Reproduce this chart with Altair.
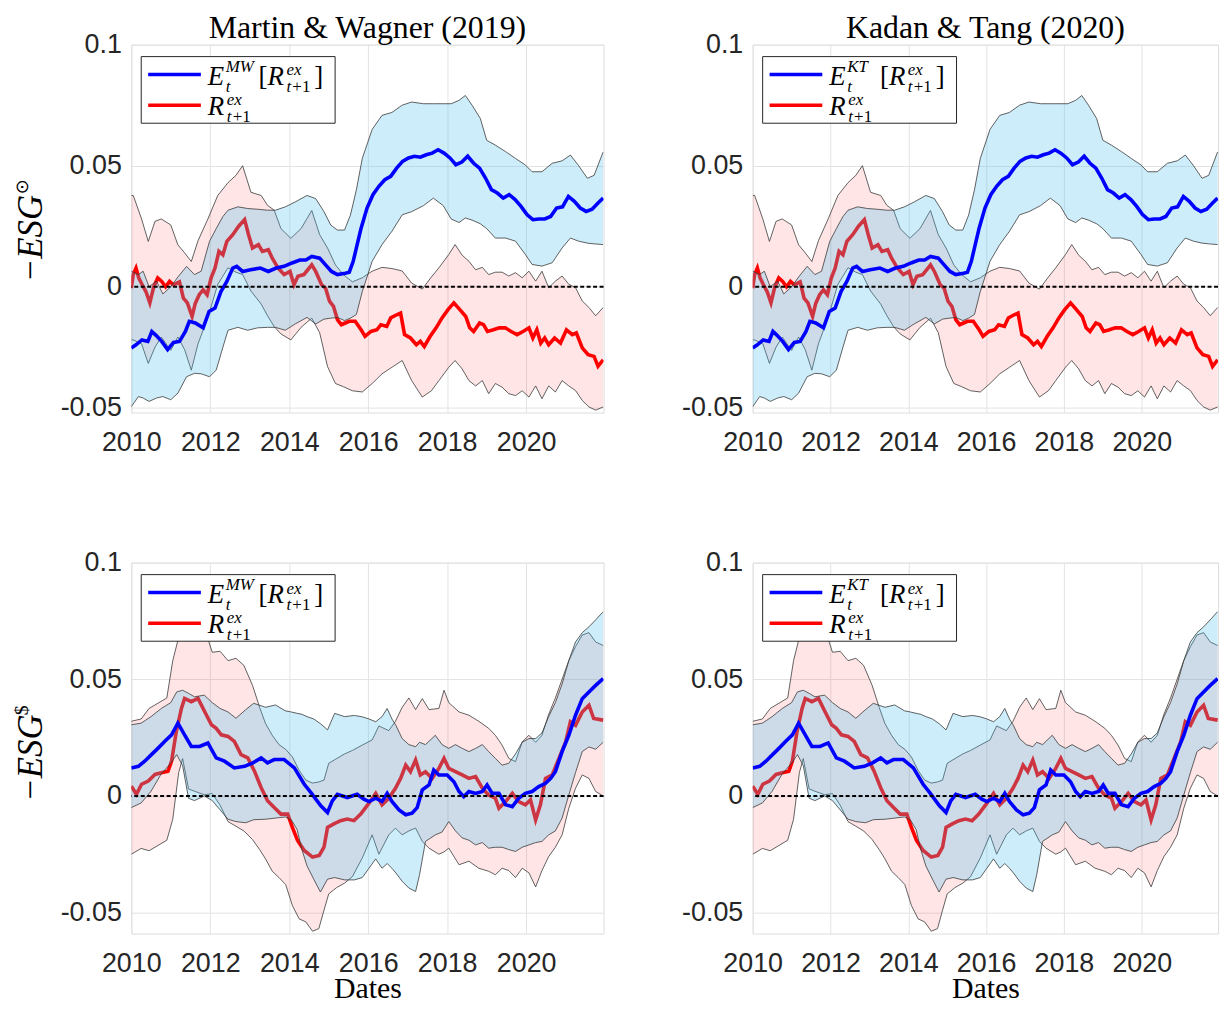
import altair as alt
import pandas as pd

# ---------------- data ----------------
# Top row: -ESG (circle-dot) portfolio
TOP_EXP_T = [2010.00, 2010.12, 2010.27, 2010.42, 2010.52, 2010.62, 2010.77, 2010.92, 2011.07, 2011.22,
             2011.37, 2011.47, 2011.62, 2011.82, 2011.97, 2012.12, 2012.27, 2012.42, 2012.57, 2012.67,
             2012.82, 2013.02, 2013.27, 2013.47, 2013.67, 2013.87, 2014.07, 2014.27, 2014.42, 2014.57,
             2014.77, 2014.92, 2015.07, 2015.22, 2015.42, 2015.52, 2015.62, 2015.72, 2015.82, 2015.97,
             2016.12, 2016.27, 2016.42, 2016.57, 2016.72, 2016.87, 2017.02, 2017.17, 2017.32, 2017.47,
             2017.62, 2017.77, 2017.92, 2018.07, 2018.22, 2018.37, 2018.52, 2018.67, 2018.82, 2018.97,
             2019.12, 2019.27, 2019.42, 2019.57, 2019.72, 2019.87, 2020.02, 2020.17, 2020.32, 2020.47,
             2020.62, 2020.77, 2020.92, 2021.07, 2021.22, 2021.37, 2021.52, 2021.67, 2021.82, 2021.95]
TOP_EXP_V = [-0.0253, -0.0240, -0.0220, -0.0226, -0.0185, -0.0200, -0.0226, -0.0260, -0.0230, -0.0226,
             -0.0185, -0.0143, -0.0150, -0.0170, -0.0102, -0.0088, -0.0020, 0.0022, 0.0077, 0.0084,
             0.0063, 0.0070, 0.0077, 0.0063, 0.0077, 0.0084, 0.0098, 0.0110, 0.0110, 0.0125,
             0.0118, 0.0090, 0.0063, 0.0050, 0.0056, 0.0060, 0.0105, 0.0174, 0.0242, 0.0325,
             0.0380, 0.0415, 0.0442, 0.0456, 0.0490, 0.0518, 0.0532, 0.0539, 0.0535, 0.0545,
             0.0552, 0.0566, 0.0552, 0.0532, 0.0504, 0.0515, 0.0539, 0.0510, 0.0490, 0.0449,
             0.0401, 0.0387, 0.0366, 0.0380, 0.0360, 0.0332, 0.0298, 0.0277, 0.0280, 0.0280,
             0.0290, 0.0325, 0.0330, 0.0373, 0.0353, 0.0325, 0.0311, 0.0320, 0.0346, 0.0366]

TOP_RET_T = [2010.00, 2010.05, 2010.12, 2010.19, 2010.27, 2010.37, 2010.47, 2010.57, 2010.67, 2010.77,
             2010.87, 2010.97, 2011.07, 2011.22, 2011.32, 2011.42, 2011.54, 2011.62, 2011.72, 2011.82,
             2011.92, 2012.02, 2012.12, 2012.22, 2012.32, 2012.42, 2012.57, 2012.72, 2012.87, 2012.97,
             2013.07, 2013.22, 2013.32, 2013.47, 2013.57, 2013.72, 2013.87, 2014.02, 2014.12, 2014.22,
             2014.37, 2014.47, 2014.57, 2014.67, 2014.82, 2014.92, 2015.02, 2015.12, 2015.22, 2015.32,
             2015.42, 2015.52, 2015.67, 2015.82, 2015.92, 2016.07, 2016.22, 2016.32, 2016.47, 2016.57,
             2016.72, 2016.82, 2016.92, 2017.07, 2017.22, 2017.32, 2017.42, 2017.57, 2017.72, 2017.87,
             2018.02, 2018.17, 2018.32, 2018.47, 2018.57, 2018.67, 2018.82, 2018.92, 2019.02, 2019.17,
             2019.32, 2019.47, 2019.62, 2019.77, 2019.92, 2020.07, 2020.17, 2020.27, 2020.37, 2020.47,
             2020.57, 2020.72, 2020.87, 2021.02, 2021.17, 2021.27, 2021.42, 2021.57, 2021.72, 2021.82,
             2021.95]
TOP_RET_V = [-0.0006, 0.0050, 0.0077, 0.0036, 0.0010, -0.0020, -0.0067, 0.0000, 0.0036, 0.0022,
             0.0000, 0.0022, 0.0008, 0.0020, -0.0047, -0.0067, -0.0123, -0.0069, -0.0033, -0.0013,
             -0.0033, 0.0036, 0.0077, 0.0146, 0.0132, 0.0187, 0.0215, 0.0250, 0.0277, 0.0215,
             0.0160, 0.0174, 0.0146, 0.0153, 0.0118, 0.0077, 0.0050, 0.0063, 0.0008, 0.0043,
             0.0050, 0.0070, 0.0090, 0.0063, 0.0008, -0.0006, -0.0060, -0.0081, -0.0136, -0.0157,
             -0.0150, -0.0143, -0.0143, -0.0178, -0.0205, -0.0185, -0.0178, -0.0157, -0.0164, -0.0129,
             -0.0116, -0.0109, -0.0198, -0.0212, -0.0240, -0.0226, -0.0247, -0.0205, -0.0170, -0.0129,
             -0.0095, -0.0067, -0.0095, -0.0123, -0.0170, -0.0185, -0.0150, -0.0157, -0.0185, -0.0178,
             -0.0170, -0.0170, -0.0185, -0.0198, -0.0185, -0.0170, -0.0212, -0.0178, -0.0233, -0.0212,
             -0.0240, -0.0212, -0.0233, -0.0178, -0.0198, -0.0191, -0.0253, -0.0281, -0.0288, -0.0329,
             -0.0302]

TOP_EXPBAND_T = [2010.00, 2010.18, 2010.30, 2010.45, 2010.64, 2010.80, 2011.00, 2011.18, 2011.40, 2011.60,
                 2011.77, 2011.98, 2012.15, 2012.32, 2012.45, 2012.70, 2012.95, 2013.20, 2013.45, 2013.65,
                 2013.90, 2014.15, 2014.45, 2014.67, 2014.88, 2015.05, 2015.22, 2015.40, 2015.55, 2015.70,
                 2015.85, 2016.10, 2016.35, 2016.60, 2016.86, 2017.10, 2017.40, 2017.65, 2017.90, 2018.10,
                 2018.30, 2018.46, 2018.63, 2018.84, 2019.00, 2019.22, 2019.48, 2019.73, 2019.98, 2020.15,
                 2020.40, 2020.66, 2020.91, 2021.12, 2021.33, 2021.55, 2021.72, 2021.95]
TOP_EXPBAND_HI = [0.0064, 0.0050, 0.0064, 0.0000, 0.0023, -0.0030, 0.0000, 0.0040, 0.0084, 0.0050,
                  0.0064, 0.0187, 0.0240, 0.0290, 0.0316, 0.0330, 0.0323, 0.0320, 0.0316, 0.0316,
                  0.0330, 0.0350, 0.0377, 0.0364, 0.0310, 0.0255, 0.0234, 0.0234, 0.0296, 0.0400,
                  0.0530, 0.0650, 0.0708, 0.0720, 0.0750, 0.0763, 0.0756, 0.0756, 0.0756, 0.0756,
                  0.0770, 0.0790, 0.0750, 0.0695, 0.0605, 0.0585, 0.0558, 0.0530, 0.0503, 0.0475,
                  0.0475, 0.0510, 0.0520, 0.0544, 0.0500, 0.0448, 0.0460, 0.0557]
TOP_EXPBAND_LO = [-0.0496, -0.0454, -0.0460, -0.0474, -0.0460, -0.0454, -0.0467, -0.0440, -0.0372, -0.0358,
                  -0.0360, -0.0372, -0.0345, -0.0250, -0.0180, -0.0168, -0.0180, -0.0170, -0.0168, -0.0168,
                  -0.0180, -0.0154, -0.0127, -0.0154, -0.0134, -0.0130, -0.0127, -0.0140, -0.0130, -0.0115,
                  -0.0020, 0.0105, 0.0174, 0.0229, 0.0297, 0.0310, 0.0335, 0.0366, 0.0335, 0.0280,
                  0.0265, 0.0284, 0.0275, 0.0260, 0.0240, 0.0201, 0.0201, 0.0188, 0.0133, 0.0092,
                  0.0085, 0.0099, 0.0160, 0.0201, 0.0188, 0.0180, 0.0177, 0.0174]

TOP_RETBAND_T = [2010.00, 2010.05, 2010.26, 2010.43, 2010.60, 2010.76, 2011.00, 2011.18, 2011.35, 2011.52,
                 2011.69, 2011.94, 2012.19, 2012.45, 2012.65, 2012.82, 2013.03, 2013.29, 2013.45, 2013.62,
                 2013.79, 2014.04, 2014.30, 2014.57, 2014.77, 2014.97, 2015.17, 2015.37, 2015.60, 2015.85,
                 2016.10, 2016.35, 2016.60, 2016.86, 2017.10, 2017.37, 2017.60, 2017.79, 2018.04, 2018.20,
                 2018.38, 2018.55, 2018.72, 2018.89, 2019.05, 2019.22, 2019.39, 2019.56, 2019.73, 2019.90,
                 2020.07, 2020.24, 2020.40, 2020.57, 2020.74, 2020.91, 2021.08, 2021.25, 2021.42, 2021.59,
                 2021.76, 2021.95]
TOP_RETBAND_HI = [0.0377, 0.0377, 0.0280, 0.0187, 0.0270, 0.0280, 0.0255, 0.0173, 0.0140, 0.0104,
                  0.0190, 0.0280, 0.0377, 0.0430, 0.0460, 0.0500, 0.0390, 0.0377, 0.0336, 0.0316,
                  0.0240, 0.0200, 0.0240, 0.0315, 0.0215, 0.0160, 0.0090, 0.0050, 0.0020, 0.0037,
                  0.0064, 0.0080, 0.0075, 0.0065, 0.0015, -0.0010, 0.0040, 0.0078, 0.0133, 0.0174,
                  0.0130, 0.0105, 0.0070, 0.0080, 0.0050, 0.0060, 0.0060, 0.0044, 0.0058, 0.0037,
                  0.0064, 0.0023, 0.0064, -0.0004, 0.0023, 0.0044, 0.0010, -0.0004, -0.0059, -0.0086,
                  -0.0120, -0.0086]
TOP_RETBAND_LO = [-0.0220, -0.0220, -0.0236, -0.0317, -0.0250, -0.0208, -0.0263, -0.0208, -0.0260, -0.0345,
                  -0.0236, -0.0127, 0.0010, 0.0078, 0.0060, 0.0050, -0.0018, -0.0072, -0.0120, -0.0165,
                  -0.0195, -0.0220, -0.0168, -0.0130, -0.0190, -0.0330, -0.0400, -0.0413, -0.0430, -0.0435,
                  -0.0400, -0.0360, -0.0333, -0.0305, -0.0388, -0.0456, -0.0430, -0.0388, -0.0333, -0.0305,
                  -0.0340, -0.0388, -0.0410, -0.0388, -0.0442, -0.0400, -0.0415, -0.0442, -0.0450, -0.0430,
                  -0.0456, -0.0410, -0.0463, -0.0410, -0.0435, -0.0388, -0.0410, -0.0429, -0.0470, -0.0497,
                  -0.0510, -0.0497]

# Bottom row: -ESG ($) portfolio
BOT_EXP_T = [2010.00, 2010.18, 2010.34, 2010.51, 2010.68, 2010.85, 2011.02, 2011.18, 2011.35, 2011.52,
             2011.73, 2011.94, 2012.15, 2012.36, 2012.61, 2012.87, 2013.08, 2013.29, 2013.45, 2013.62,
             2013.87, 2014.13, 2014.38, 2014.55, 2014.80, 2014.97, 2015.09, 2015.22, 2015.47, 2015.72,
             2015.89, 2016.02, 2016.19, 2016.35, 2016.48, 2016.60, 2016.78, 2016.95, 2017.11, 2017.24,
             2017.37, 2017.54, 2017.66, 2017.79, 2018.00, 2018.17, 2018.30, 2018.42, 2018.55, 2018.72,
             2018.89, 2019.01, 2019.14, 2019.31, 2019.48, 2019.65, 2019.81, 2019.98, 2020.15, 2020.32,
             2020.49, 2020.62, 2020.74, 2020.91, 2021.08, 2021.25, 2021.42, 2021.59, 2021.76, 2021.95]
BOT_EXP_V = [0.0120, 0.0127, 0.0149, 0.0177, 0.0205, 0.0234, 0.0262, 0.0312, 0.0262, 0.0212,
             0.0212, 0.0227, 0.0163, 0.0149, 0.0120, 0.0127, 0.0142, 0.0163, 0.0142, 0.0156,
             0.0156, 0.0120, 0.0050, 0.0014, -0.0042, -0.0071, -0.0021, 0.0007, -0.0007, 0.0007,
             -0.0014, -0.0024, -0.0010, -0.0024, 0.0011, -0.0024, -0.0060, -0.0081, -0.0074, -0.0050,
             0.0026, 0.0047, 0.0111, 0.0090, 0.0090, 0.0061, 0.0019, -0.0003, 0.0019, 0.0011,
             0.0019, 0.0047, 0.0011, 0.0011, -0.0038, -0.0046, -0.0010, 0.0011, 0.0019, 0.0040,
             0.0054, 0.0075, 0.0104, 0.0190, 0.0260, 0.0346, 0.0417, 0.0446, 0.0474, 0.0503]

BOT_RET_T = [2010.00, 2010.13, 2010.26, 2010.43, 2010.60, 2010.76, 2010.93, 2011.02, 2011.14, 2011.27,
             2011.35, 2011.52, 2011.69, 2011.86, 2012.03, 2012.15, 2012.28, 2012.45, 2012.61, 2012.78,
             2012.95, 2013.12, 2013.29, 2013.45, 2013.62, 2013.79, 2013.96, 2014.08, 2014.21, 2014.38,
             2014.59, 2014.76, 2014.88, 2014.97, 2015.13, 2015.30, 2015.47, 2015.64, 2015.81, 2016.02,
             2016.19, 2016.35, 2016.52, 2016.69, 2016.82, 2016.95, 2017.07, 2017.20, 2017.32, 2017.45,
             2017.62, 2017.79, 2017.92, 2018.04, 2018.21, 2018.38, 2018.55, 2018.72, 2018.89, 2019.05,
             2019.22, 2019.31, 2019.48, 2019.65, 2019.81, 2019.98, 2020.11, 2020.24, 2020.36, 2020.49,
             2020.66, 2020.83, 2021.00, 2021.12, 2021.25, 2021.42, 2021.59, 2021.71, 2021.95]
BOT_RET_V = [0.0042, 0.0007, 0.0050, 0.0064, 0.0092, 0.0099, 0.0106, 0.0149, 0.0276, 0.0375,
             0.0418, 0.0404, 0.0418, 0.0361, 0.0305, 0.0290, 0.0262, 0.0255, 0.0234, 0.0177,
             0.0163, 0.0106, 0.0035, -0.0021, -0.0050, -0.0078, -0.0078, -0.0135, -0.0191, -0.0234,
             -0.0262, -0.0255, -0.0220, -0.0135, -0.0120, -0.0106, -0.0099, -0.0106, -0.0078, -0.0031,
             0.0011, -0.0038, -0.0010, 0.0033, 0.0075, 0.0132, 0.0104, 0.0154, 0.0090, 0.0104,
             0.0075, 0.0118, 0.0161, 0.0118, 0.0104, 0.0090, 0.0075, 0.0083, 0.0033, 0.0004,
             -0.0010, -0.0053, -0.0024, 0.0011, -0.0024, -0.0038, -0.0017, -0.0103, -0.0038, 0.0075,
             0.0090, 0.0161, 0.0232, 0.0318, 0.0303, 0.0360, 0.0389, 0.0332, 0.0325]

BOT_EXPBAND_T = [2010.00, 2010.25, 2010.50, 2010.76, 2011.00, 2011.15, 2011.30, 2011.45, 2011.60, 2011.85,
                 2012.05, 2012.25, 2012.45, 2012.65, 2012.90, 2013.10, 2013.40, 2013.65, 2013.90, 2014.05,
                 2014.20, 2014.32, 2014.45, 2014.62, 2014.79, 2014.97, 2015.15, 2015.40, 2015.65, 2015.85,
                 2016.02, 2016.19, 2016.35, 2016.48, 2016.60, 2016.70, 2016.86, 2017.03, 2017.20, 2017.30,
                 2017.45, 2017.70, 2017.87, 2018.04, 2018.21, 2018.38, 2018.55, 2018.72, 2018.89, 2019.05,
                 2019.22, 2019.39, 2019.56, 2019.73, 2019.90, 2020.07, 2020.24, 2020.40, 2020.57, 2020.74,
                 2020.91, 2021.08, 2021.25, 2021.42, 2021.59, 2021.76, 2021.95]
BOT_EXPBAND_HI = [0.0305, 0.0312, 0.0340, 0.0375, 0.0400, 0.0446, 0.0453, 0.0440, 0.0425, 0.0432,
                  0.0400, 0.0375, 0.0360, 0.0333, 0.0370, 0.0397, 0.0380, 0.0390, 0.0365, 0.0360,
                  0.0354, 0.0350, 0.0340, 0.0330, 0.0310, 0.0283, 0.0354, 0.0340, 0.0345, 0.0339,
                  0.0330, 0.0318, 0.0340, 0.0375, 0.0330, 0.0303, 0.0246, 0.0220, 0.0211, 0.0230,
                  0.0220, 0.0260, 0.0220, 0.0204, 0.0220, 0.0204, 0.0190, 0.0204, 0.0220, 0.0190,
                  0.0161, 0.0132, 0.0140, 0.0180, 0.0230, 0.0246, 0.0246, 0.0270, 0.0340, 0.0400,
                  0.0480, 0.0580, 0.0660, 0.0700, 0.0725, 0.0755, 0.0790]
BOT_EXPBAND_LO = [-0.0050, -0.0030, 0.0020, 0.0095, 0.0140, 0.0177, 0.0130, -0.0010, -0.0020, 0.0000,
                  -0.0020, -0.0060, -0.0100, -0.0110, -0.0115, -0.0102, -0.0100, -0.0095, -0.0090, -0.0102,
                  -0.0144, -0.0230, -0.0300, -0.0357, -0.0412, -0.0357, -0.0350, -0.0360, -0.0360, -0.0350,
                  -0.0310, -0.0270, -0.0310, -0.0290, -0.0310, -0.0330, -0.0366, -0.0395, -0.0410, -0.0338,
                  -0.0195, -0.0167, -0.0155, -0.0110, -0.0150, -0.0180, -0.0190, -0.0210, -0.0200, -0.0224,
                  -0.0220, -0.0220, -0.0230, -0.0238, -0.0220, -0.0210, -0.0200, -0.0195, -0.0167, -0.0150,
                  -0.0095, 0.0004, 0.0100, 0.0190, 0.0210, 0.0200, 0.0230]

BOT_RETBAND_T = [2010.00, 2010.25, 2010.45, 2010.70, 2010.90, 2011.05, 2011.20, 2011.30, 2011.45, 2011.60,
                 2011.85, 2012.05, 2012.25, 2012.45, 2012.65, 2012.85, 2013.07, 2013.25, 2013.40, 2013.57,
                 2013.74, 2013.91, 2014.08, 2014.25, 2014.42, 2014.59, 2014.75, 2014.88, 2015.00, 2015.20,
                 2015.40, 2015.60, 2015.85, 2016.10, 2016.27, 2016.52, 2016.69, 2016.86, 2017.03, 2017.20,
                 2017.37, 2017.54, 2017.79, 2017.92, 2018.04, 2018.30, 2018.55, 2018.80, 2019.05, 2019.22,
                 2019.39, 2019.56, 2019.73, 2019.90, 2020.07, 2020.24, 2020.40, 2020.57, 2020.74, 2020.91,
                 2021.08, 2021.25, 2021.42, 2021.59, 2021.76, 2021.95]
BOT_RETBAND_HI = [0.0320, 0.0330, 0.0375, 0.0400, 0.0420, 0.0580, 0.0680, 0.0720, 0.0760, 0.0780,
                  0.0720, 0.0616, 0.0620, 0.0580, 0.0590, 0.0560, 0.0474, 0.0380, 0.0310, 0.0260,
                  0.0220, 0.0200, 0.0167, 0.0110, 0.0068, 0.0055, 0.0060, 0.0068, 0.0140, 0.0160,
                  0.0180, 0.0195, 0.0218, 0.0240, 0.0300, 0.0280, 0.0320, 0.0380, 0.0420, 0.0370,
                  0.0417, 0.0370, 0.0375, 0.0453, 0.0400, 0.0360, 0.0346, 0.0320, 0.0290, 0.0260,
                  0.0218, 0.0161, 0.0147, 0.0232, 0.0260, 0.0230, 0.0260, 0.0350, 0.0420, 0.0500,
                  0.0580, 0.0640, 0.0690, 0.0700, 0.0660, 0.0645]
BOT_RETBAND_LO = [-0.0250, -0.0225, -0.0235, -0.0210, -0.0190, -0.0100, 0.0100, 0.0160, 0.0030, 0.0020,
                  0.0005, 0.0010, -0.0040, -0.0110, -0.0130, -0.0150, -0.0187, -0.0230, -0.0270, -0.0323,
                  -0.0350, -0.0380, -0.0470, -0.0527, -0.0540, -0.0580, -0.0569, -0.0490, -0.0420, -0.0393,
                  -0.0374, -0.0346, -0.0266, -0.0167, -0.0250, -0.0167, -0.0138, -0.0167, -0.0150, -0.0138,
                  -0.0195, -0.0224, -0.0250, -0.0240, -0.0224, -0.0295, -0.0280, -0.0310, -0.0323, -0.0338,
                  -0.0310, -0.0320, -0.0350, -0.0310, -0.0330, -0.0390, -0.0320, -0.0260, -0.0220, -0.0167,
                  -0.0053, 0.0033, 0.0090, 0.0075, 0.0019, 0.0000]

TITLES = ["Martin & Wagner (2019)", "Kadan & Tang (2020)"]
MODEL_TAGS = ["MW", "KT"]
Y_TITLE_SUPS = ["\u2299", "$"]
X_TICKS = [2010, 2012, 2014, 2016, 2018, 2020]
Y_TICKS = [-0.05, 0, 0.05, 0.1]

# ---------------- styling ----------------
BLUE_FILL = "#4DBEEE"
RED_FILL = "#FF0000"
EDGE = "#3a3a3a"
AXIS_COL = "#262626"
SANS = "Liberation Sans"
SERIF = "Liberation Serif"

X_DOMAIN = [2010, 2021.96]


def band_df(t, hi, lo):
    return pd.DataFrame({"year": t, "hi": hi, "lo": lo})


def line_df(t, v):
    return pd.DataFrame({"year": t, "val": v})


DUMMY = pd.DataFrame({"d": [0]})


def deco_text(txt, x, y, size, italic=True, font=SERIF, angle=None, align="left"):
    kw = dict(text=txt, font=font, fontSize=size, align=align, baseline="alphabetic",
              color="black")
    if italic:
        kw["fontStyle"] = "italic"
    if angle is not None:
        kw["angle"] = angle
    return alt.Chart(DUMMY).mark_text(**kw).encode(x=alt.value(x), y=alt.value(y))


def panel(row, col, width, height):
    if row == 0:
        eb = band_df(TOP_EXPBAND_T, TOP_EXPBAND_HI, TOP_EXPBAND_LO)
        rb = band_df(TOP_RETBAND_T, TOP_RETBAND_HI, TOP_RETBAND_LO)
        el = line_df(TOP_EXP_T, TOP_EXP_V)
        rl = line_df(TOP_RET_T, TOP_RET_V)
        ydom = [-0.052, 0.1]
    else:
        eb = band_df(BOT_EXPBAND_T, BOT_EXPBAND_HI, BOT_EXPBAND_LO)
        rb = band_df(BOT_RETBAND_T, BOT_RETBAND_HI, BOT_RETBAND_LO)
        el = line_df(BOT_EXP_T, BOT_EXP_V)
        rl = line_df(BOT_RET_T, BOT_RET_V)
        ydom = [-0.059, 0.1]

    xaxis_kw = dict(values=X_TICKS, format="d", grid=True, gridColor="#e3e3e3", gridWidth=1,
                    domain=False, ticks=False, labelFont=SANS, labelFontSize=27,
                    labelColor=AXIS_COL, labelPadding=17, labelFlush=False)
    if row == 1:
        xaxis_kw.update(title="Dates", titleFont=SERIF, titleFontSize=30, titleFontWeight="normal",
                        titleColor="black", titlePadding=-3)
    else:
        xaxis_kw.update(title=None)
    xaxis = alt.Axis(**xaxis_kw)
    yaxis = alt.Axis(values=Y_TICKS, title=None, grid=True, gridColor="#e3e3e3", gridWidth=1,
                     domain=False, ticks=False, labelFont=SANS, labelFontSize=27,
                     labelColor=AXIS_COL, labelPadding=10, labelFlush=False,
                     labelExpr="datum.value == 0.1 ? '0.1' : datum.value == 0.05 ? '0.05' : "
                               "datum.value == 0 ? '0' : '-0.05'")
    xs = alt.Scale(domain=X_DOMAIN, nice=False, zero=False)
    ys = alt.Scale(domain=ydom, nice=False, zero=False)
    X = alt.X("year:Q", scale=xs, axis=xaxis)

    layers = [
        alt.Chart(rb).mark_area(color=RED_FILL, opacity=0.1, clip=True).encode(
            x=X, y=alt.Y("hi:Q", scale=ys, axis=yaxis), y2="lo:Q"),
        alt.Chart(rb).mark_line(color=EDGE, strokeWidth=0.8, clip=True).encode(
            x=X, y=alt.Y("hi:Q", scale=ys, axis=yaxis)),
        alt.Chart(rb).mark_line(color=EDGE, strokeWidth=0.8, clip=True).encode(
            x=X, y=alt.Y("lo:Q", scale=ys, axis=yaxis)),
        alt.Chart(rl).mark_line(color="#FF0000", strokeWidth=3.6, clip=True).encode(
            x=X, y=alt.Y("val:Q", scale=ys, axis=yaxis)),
        alt.Chart(eb).mark_area(color=BLUE_FILL, opacity=0.28, clip=True).encode(
            x=X, y=alt.Y("hi:Q", scale=ys, axis=yaxis), y2="lo:Q"),
        alt.Chart(eb).mark_line(color=EDGE, strokeWidth=0.8, clip=True).encode(
            x=X, y=alt.Y("hi:Q", scale=ys, axis=yaxis)),
        alt.Chart(eb).mark_line(color=EDGE, strokeWidth=0.8, clip=True).encode(
            x=X, y=alt.Y("lo:Q", scale=ys, axis=yaxis)),
        alt.Chart(el).mark_line(color="#0000FF", strokeWidth=3.6, clip=True).encode(
            x=X, y=alt.Y("val:Q", scale=ys, axis=yaxis)),
        alt.Chart(DUMMY).mark_rule(color="black", strokeWidth=2, strokeDash=[4, 2.5]).encode(
            y=alt.Y("z:Q", scale=ys, axis=yaxis)).transform_calculate(z="0"),
    ]

    # legend box (decoration, in pixels)
    layers += [
        alt.Chart(DUMMY).mark_rect(fill="white", stroke=AXIS_COL, strokeWidth=1).encode(
            x=alt.value(10), x2=alt.value(205), y=alt.value(12), y2=alt.value(79)),
        alt.Chart(DUMMY).mark_rule(color="#0000FF", strokeWidth=3.6).encode(
            x=alt.value(17), x2=alt.value(70), y=alt.value(30)),
        alt.Chart(DUMMY).mark_rule(color="#FF0000", strokeWidth=3.6).encode(
            x=alt.value(17), x2=alt.value(70), y=alt.value(61)),
    ]
    tag = MODEL_TAGS[col]
    bx = 128
    layers += [
        deco_text("E", 77, 41, 27),
        deco_text(tag, 95, 27, 17),
        deco_text("t", 95, 48, 17),
        deco_text("[", bx, 41, 27, italic=False),
        deco_text("R", bx + 9, 41, 27),
        deco_text("ex", bx + 28, 31, 17),
        deco_text("t", bx + 28, 48, 17),
        deco_text("+1", bx + 34, 48, 17, italic=False),
        deco_text("]", bx + 56, 41, 27, italic=False),
        deco_text("R", 77, 71, 27),
        deco_text("ex", 96, 61, 17),
        deco_text("t", 96, 78, 17),
        deco_text("+1", 102, 78, 17, italic=False),
    ]
    if col == 0:
        cy = height / 2 + 10
        layers += [
            deco_text("\u2212ESG", -90, cy, 35, angle=270, align="center"),
        ]
        sup = Y_TITLE_SUPS[row]
        if row == 0:
            layers.append(deco_text(sup, -104, cy - 52, 18, italic=False,
                                    font="DejaVu Sans", angle=270, align="center"))
        else:
            layers.append(deco_text(sup, -104, cy - 48, 20, italic=False,
                                    angle=270, align="center"))

    ch = alt.layer(*layers).properties(width=width, height=height)
    if row == 0:
        ch = ch.properties(title=alt.TitleParams(TITLES[col], font=SERIF, fontSize=32,
                                                 fontWeight="normal", color="black",
                                                 anchor="middle", offset=-14))
    return ch


top = alt.hconcat(panel(0, 0, 475, 370), panel(0, 1, 468, 370), spacing=75)
bot = alt.hconcat(panel(1, 0, 475, 373), panel(1, 1, 468, 373), spacing=75)
chart = alt.vconcat(top, bot, spacing=92).properties(
    padding={"left": 3, "top": 0, "right": 0, "bottom": 0}
).configure_view(stroke=AXIS_COL, strokeWidth=1).configure(background="white")

chart.save("out.html", embed_options={"renderer": "svg", "actions": False})
